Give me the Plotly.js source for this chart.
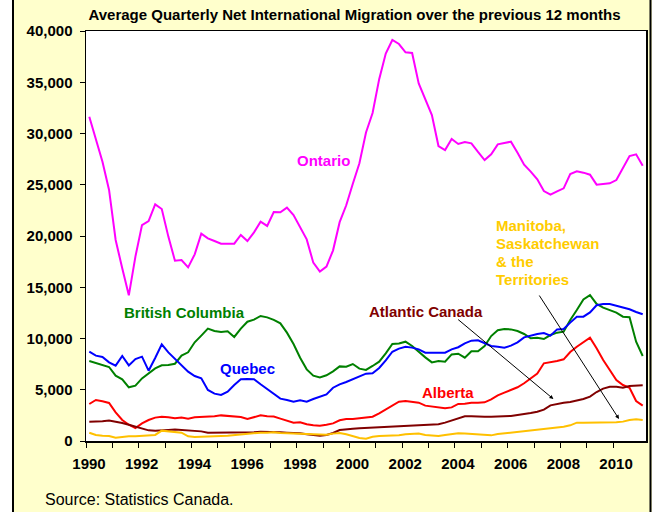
<!DOCTYPE html>
<html>
<head>
<meta charset="utf-8">
<script src="https://cdn.plot.ly/plotly-3.0.1.min.js"></script>
<style>html,body{margin:0;padding:0;background:#fff;}</style>
</head>
<body>
<div id="chart" style="width:652px;height:512px;"></div>
<script>
// Quarterly series, 1990 Q1 through 2011 Q1 (average net international migration, previous 12 months)
const firstYear = 1990;
const quartersPerYear = 4;

const ontario = [31640,29530,27250,24490,19610,16850,14210,17990,21070,21460,23090,22630,19940,17590,17660,16940,
  18210,20230,19770,19510,19250,19250,19250,20100,19510,20360,21400,20980,22340,22310,22770,22050,
  20910,19670,17400,16520,17010,18600,21350,23000,25100,27100,30100,32000,35300,37800,39120,38730,
  37920,37850,34890,33270,31800,28780,28390,29460,28980,29170,29040,28200,27410,27970,28940,29070,
  29200,28130,26960,26280,25530,24390,24030,24360,24650,26050,26310,26180,25980,25010,25110,25140,
  25460,26600,27800,27970,26860];

const britishColumbia = [7800,7610,7450,7220,6370,6020,5240,5400,6110,6600,7090,7380,7410,7540,8330,8650,
  9630,10280,10960,10730,10630,10700,10150,10960,11640,11840,12200,12060,11820,11480,10570,9460,
  8130,6990,6370,6210,6410,6800,7280,7250,7510,7060,6930,7320,7740,8550,9460,9520,
  9690,9270,8680,8160,7670,7800,7740,8450,8520,8130,8750,8750,9270,10240,10800,10930,
  10890,10730,10440,10020,10080,9950,10340,10570,10670,11800,12780,13820,14240,13370,13010,12780,
  12520,12130,12070,9690,8290];

const quebec = [8710,8330,8200,7670,7350,8290,7380,8000,8230,6860,8100,9430,8650,8030,7410,6760,
  6340,6110,4980,4620,4490,4810,5460,6020,6050,6020,5530,5070,4600,4130,4000,3840,
  3970,3840,4100,4330,4550,5200,5530,5760,6020,6240,6570,6600,7120,7870,8710,9010,
  9200,9110,8940,8620,8620,8620,8620,8940,9150,9530,9790,9820,9530,9270,9200,9110,
  9300,9630,10110,10310,10440,10540,10280,10890,10930,11550,12130,12130,12550,13240,13370,13370,
  13200,12980,12850,12590,12360];

const alberta = [3610,4000,3870,3710,2800,2050,1590,1270,1720,2050,2280,2370,2310,2210,2280,2180,
  2310,2340,2340,2410,2500,2440,2370,2340,2150,2340,2500,2410,2380,2180,1950,1790,
  1820,1630,1530,1500,1590,1720,2020,2150,2150,2210,2240,2370,2700,3060,3450,3840,
  3900,3800,3740,3450,3350,3280,3190,3280,3620,3640,3740,3740,3770,4060,4450,4720,
  4980,5240,5630,6080,6570,7580,7670,7800,7970,8680,9200,9660,10080,9040,7900,6930,
  5950,5460,5200,3900,3450];

const atlanticCanada = [1890,1890,1920,1990,1890,1760,1590,1430,1240,1040,1010,1070,1070,1110,1070,1040,
  980,940,810,810,850,850,810,780,810,850,910,910,870,850,810,810,
  750,650,550,520,590,780,1070,1170,1200,1240,1270,1300,1370,1400,1430,1460,
  1500,1530,1560,1560,1560,1630,1790,1990,2250,2410,2410,2370,2370,2370,2370,2410,
  2440,2540,2600,2730,2860,3060,3480,3640,3740,3800,3930,4100,4330,4780,5110,5300,
  5300,5200,5370,5430,5430];

const prairiesTerritories = [810,590,520,490,330,420,460,460,520,520,590,1010,950,880,810,460,
  390,420,420,420,490,520,590,650,680,750,810,810,850,780,750,720,
  680,650,620,590,620,720,780,650,490,300,230,420,490,490,490,550,
  650,680,720,590,520,490,590,680,750,720,680,680,650,550,680,750,
  810,880,980,1070,1140,1170,1240,1300,1400,1530,1790,1790,1790,1820,1860,1860,
  1820,1890,2050,2110,2050];

const tickYears = [1990,1991,1992,1993,1994,1995,1996,1997,1998,1999,2000,
  2001,2002,2003,2004,2005,2006,2007,2008,2009,2010];
const labelledYears = ['1990','1992','1994','1996','1998','2000','2002','2004','2006','2008','2010'];

const seriesNames = ['Ontario','British Columbia','Quebec','Alberta','Atlantic Canada',
  'Manitoba, Saskatchewan & the Territories'];
const seriesColors = ['#FF00FF','#008000','#0000FF','#FF0000','#800000','#FFC000'];
const prairiesLabelLines = ['Manitoba,','Saskatchewan','& the','Territories'];

const FONT = 'Liberation Sans, Arial, Helvetica, sans-serif';

// x position of each quarter (decimal years)
const quarterX = ontario.map((_, i) => firstYear + i / quartersPerYear);
const halfQuarter = 0.5 / quartersPerYear;

const allSeries = [ontario, britishColumbia, quebec, alberta, atlanticCanada, prairiesTerritories];
const traces = allSeries.map((vals, k) => ({
  type: 'scatter',
  mode: 'lines',
  x: quarterX,
  y: vals,
  name: seriesNames[k],
  line: {color: seriesColors[k], width: 2},
  hoverinfo: 'skip'
}));

// year ticks sit between categories; labels every second year
const tickVals = tickYears.map(y => y - halfQuarter);
const tickText = tickYears.map(y => labelledYears.includes(String(y)) ? String(y) : '');

function label(text, x, y, color, size, extra) {
  return Object.assign({
    text: text, x: x, y: y, xref: 'x', yref: 'y', showarrow: false,
    font: {family: FONT, size: size, color: color, weight: 'bold'}
  }, extra || {});
}

function pointer(xTail, yTail, xHead, yHead) {
  return {
    text: '', x: xHead, y: yHead, xref: 'x', yref: 'y',
    ax: xTail, ay: yTail, axref: 'x', ayref: 'y',
    showarrow: true, arrowhead: 2, arrowsize: 0.8, arrowwidth: 1, arrowcolor: '#000'
  };
}

// the four-line label for the prairie provinces and the north, tighter leading than <br>
const prairiesLabelTop = 21070;
const prairiesLineStep = 1760;
const prairiesLabels = prairiesLabelLines.map((t, k) =>
  label(t, 2005.357, prairiesLabelTop - k * prairiesLineStep, '#FFCC00', 15,
        {xanchor: 'left', align: 'left', yanchor: 'middle'}));

const annotations = [
  label('Ontario', 1998.89, 27415, '#FF00FF', 15),
  label('British Columbia', 1993.63, 12585, '#008000', 15),
  label('Quebec', 1996.0, 7122, '#0000FF', 15),
  label('Atlantic Canada', 2002.76, 12615, '#800000', 15),
  label('Alberta', 2003.61, 4780, '#FF0000', 15),
  ...prairiesLabels,
  pointer(2003.94, 11970, 2007.61, 4098),
  pointer(2007.04, 14340, 2010.10, 2146),
  {
    text: 'Source: Statistics Canada.', xref: 'paper', yref: 'paper',
    x: -0.0768, y: -0.1439, xanchor: 'left', yanchor: 'middle', showarrow: false,
    font: {family: FONT, size: 16, color: '#000'}
  }
];

// outer frame: white margin on the left, black rule at each side
const shapes = [
  {type: 'rect', xref: 'paper', yref: 'paper', x0: -0.3, x1: -0.1321, y0: -0.5, y1: 1.5,
   fillcolor: '#FFFFFF', line: {width: 0}, layer: 'below'},
  {type: 'line', xref: 'paper', yref: 'paper', x0: -0.13036, x1: -0.13036, y0: -0.5, y1: 1.5,
   line: {color: '#000', width: 2}, layer: 'below'},
  {type: 'line', xref: 'paper', yref: 'paper', x0: 1.00804, x1: 1.00804, y0: -0.5, y1: 1.5,
   line: {color: '#000', width: 2}, layer: 'below'}
];

const layout = {
  width: 652,
  height: 512,
  margin: {l: 86, r: 6, t: 31, b: 71, pad: 0},
  paper_bgcolor: '#FFFFCC',
  plot_bgcolor: '#FFFFFF',
  showlegend: false,
  font: {family: FONT, color: '#000'},
  title: {
    text: 'Average Quarterly Net International Migration over the previous 12 months',
    font: {family: FONT, size: 15, color: '#000', weight: 'bold'},
    xref: 'paper', x: 0.4795, xanchor: 'center',
    yref: 'container', y: 0.9707, yanchor: 'middle'
  },
  xaxis: {
    range: [firstYear - halfQuarter, 2011 + halfQuarter],
    tickmode: 'array', tickvals: tickVals, ticktext: tickText,
    ticks: 'outside', ticklen: 5, tickwidth: 1, tickcolor: '#000',
    showline: true, linecolor: '#000', linewidth: 1.5, mirror: true,
    showgrid: false, zeroline: false,
    tickfont: {family: FONT, size: 15, color: '#000', weight: 'bold'},
    ticklabelshift: 3, ticklabelstandoff: 3
  },
  yaxis: {
    range: [0, 40000], tickmode: 'linear', tick0: 0, dtick: 5000, tickformat: ',',
    ticks: 'outside', ticklen: 5, tickwidth: 1, tickcolor: '#000',
    showline: true, linecolor: '#000', linewidth: 1.5, mirror: true,
    showgrid: false, zeroline: false,
    tickfont: {family: FONT, size: 15, color: '#000', weight: 'bold'},
    ticklabelstandoff: 4
  },
  annotations: annotations,
  shapes: shapes
};

Plotly.newPlot('chart', traces, layout, {displayModeBar: false, staticPlot: true});
</script>
</body>
</html>
